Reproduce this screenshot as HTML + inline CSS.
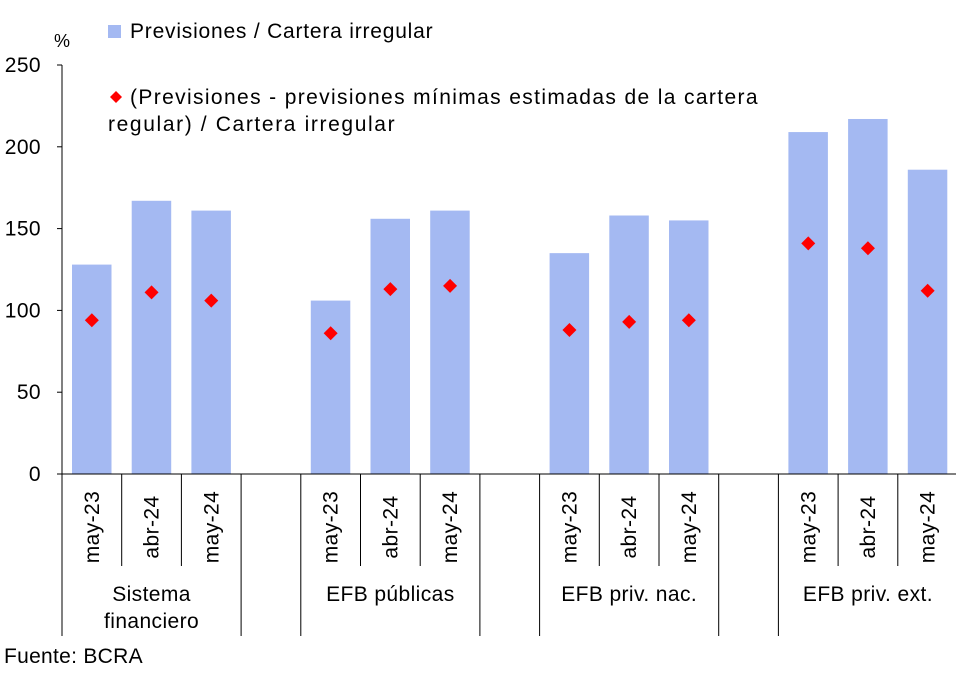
<!DOCTYPE html>
<html><head><meta charset="utf-8"><style>
body{margin:0;background:#fff;}
svg{display:block;font-family:"Liberation Sans",sans-serif;}
text{letter-spacing:0.4px;}
</style></head><body>
<svg id="c" width="956" height="674"></svg>
<script>
const groups=["Sistema|financiero","EFB públicas","EFB priv. nac.","EFB priv. ext."];
const periods=["may-23","abr-24","may-24"];
const barVals=[128,167,161,106,156,161,135,158,155,209,217,186];
const dotVals=[94,111,106,86,113,115,88,93,94,141,138,112];
const yTicks=[0,50,100,150,200,250];
const NS="http://www.w3.org/2000/svg";
const svg=document.getElementById('c');
const x0=62,slot=59.7,y0=474,k=(474-65)/250;
const y=v=>y0-v*k;
const sx=i=>x0+slot*(Math.floor(i/3)*4+i%3);
function el(t,a,txt){const e=document.createElementNS(NS,t);for(const n in a)e.setAttribute(n,a[n]);if(txt!==undefined)e.textContent=txt;svg.appendChild(e);return e;}
let ax=el('line',{x1:x0,y1:y(250),x2:x0,y2:y0,stroke:'#000','stroke-width':1});

yTicks.forEach(t=>{
 let l=el('line',{x1:x0-5,x2:x0,y1:y(t),y2:y(t),stroke:'#000'});
 
 let tx=el('text',{x:41,y:y(t)+7,'text-anchor':'end','font-size':21},t);
 
});
let pc=el('text',{x:54,y:47,'font-size':18},'%');

barVals.forEach((v,i)=>{
 let r=el('rect',{x:sx(i)+10,y:y(v),width:39.5,height:y0-y(v),fill:'#a4b9f2'});
 
});
dotVals.forEach((v,i)=>{
 const cx=sx(i)+slot/2,cy=y(v);
 let d=el('polygon',{points:`${cx},${cy-7} ${cx+7},${cy} ${cx},${cy+7} ${cx-7},${cy}`,fill:'#f00'});
 
});
let xa=el('line',{x1:x0,y1:y0,x2:956,y2:y0,stroke:'#000'});

for(let s=0;s<15;s++){
 const x=x0+slot*s;
 const inner=(s%4==1||s%4==2);
 let l=el('line',{x1:x,x2:x,y1:y0,y2:inner?566:636,stroke:'#000'});
 
}
barVals.forEach((v,i)=>{
 const cx=sx(i)+slot/2+7;
 let t=el('text',{x:cx,y:527,'font-size':21,'text-anchor':'middle',transform:`rotate(-90 ${cx} 527)`},periods[i%3]);
 
});
groups.forEach((g,j)=>{
 const cx=x0+slot*(j*4)+slot*1.5;
 g.split('|').forEach((ln,m)=>{
  let t=el('text',{x:cx,y:601+m*27,'font-size':21,'text-anchor':'middle'},ln);
  
 });
});
let ls=el('rect',{x:108,y:25,width:13,height:13,fill:'#a4b9f2'});

let lt=el('text',{x:130,y:38,'font-size':21,textLength:303},'Previsiones / Cartera irregular');

let ld=el('polygon',{points:'116,91 122,97 116,103 110,97',fill:'#f00'});

let l1=el('text',{x:130,y:104,'font-size':21,textLength:628},'(Previsiones - previsiones mínimas estimadas de la cartera');

let l2=el('text',{x:108,y:131,'font-size':21,textLength:287},'regular) / Cartera irregular');

let f=el('text',{x:4,y:663,'font-size':21,textLength:139},'Fuente: BCRA');

</script>
</body></html>
